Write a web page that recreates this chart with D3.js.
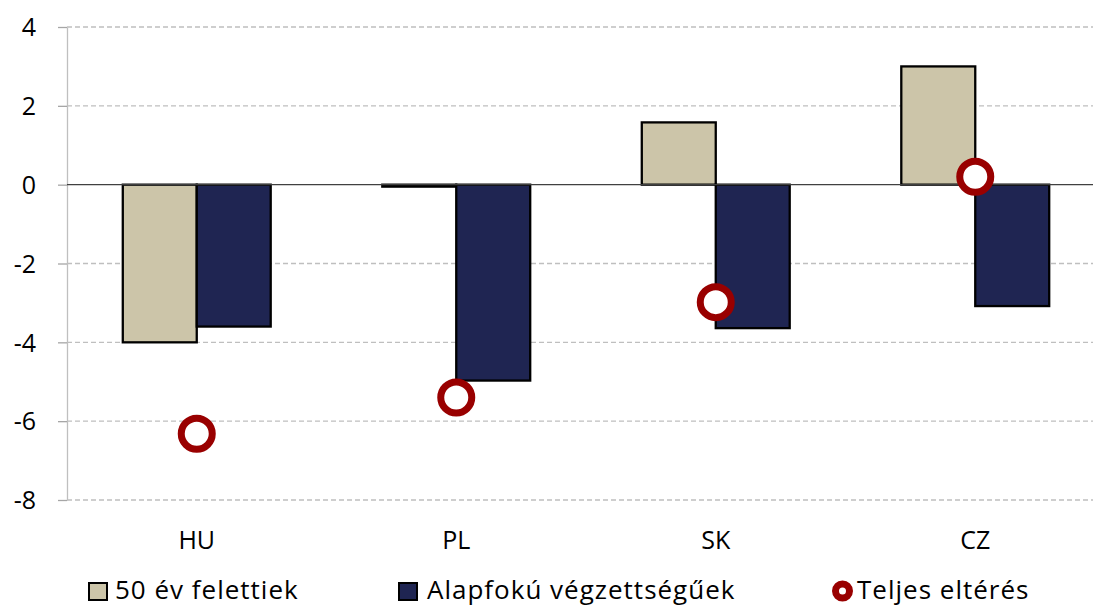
<!DOCTYPE html>
<html>
<head>
<meta charset="utf-8">
<script src="https://cdn.jsdelivr.net/npm/d3@7"></script>
<style>
  body { margin: 0; background: #fff; }
  text { font-family: "Open Sans", "Noto Sans", sans-serif; fill: #000; }
</style>
</head>
<body>
<div id="chart"></div>
<script>
var countries = ["HU", "PL", "SK", "CZ"];
var seriesNames = ["50 év felettiek", "Alapfokú végzettségűek", "Teljes eltérés"];
var over50 = [-4.0, -0.05, 1.58, 3.0];
var lowEdu = [-3.6, -4.97, -3.64, -3.08];
var total = [-6.32, -5.4, -2.98, 0.2];
var yTicks = [4, 2, 0, -2, -4, -6, -8];

var W = 1093, H = 606;
var margin = {top: 27, left: 67, bottom: 107};
var plotRight = 1105;

var svg = d3.select("#chart").append("svg")
    .attr("width", W)
    .attr("height", H);

var y = d3.scaleLinear()
    .domain([-8, 4])
    .range([H - margin.bottom + 1, margin.top]);

var x = d3.scaleBand()
    .domain(countries)
    .range([margin.left, plotRight])
    .paddingInner(0.43)
    .paddingOuter(0.215);

var sub = d3.scaleBand()
    .domain([0, 1])
    .range([0, x.bandwidth()]);

// gridlines
svg.append("g").selectAll("line")
    .data(yTicks.filter(function(d) { return d !== 0; }))
    .enter().append("line")
    .attr("x1", margin.left)
    .attr("x2", W)
    .attr("y1", function(d) { return y(d); })
    .attr("y2", function(d) { return y(d); })
    .attr("stroke", "#bfbfbf")
    .attr("stroke-width", 1.3)
    .attr("stroke-dasharray", "5,3");

// y axis (plain hyphen for minus, like the original)
var yAxis = svg.append("g")
    .attr("transform", "translate(" + margin.left + ",0)")
    .call(d3.axisLeft(y).tickValues(yTicks)
        .tickFormat(function(d) { return String(d); })
        .tickSize(9).tickSizeOuter(0).tickPadding(22));
yAxis.select(".domain").attr("stroke", "#bfbfbf").attr("stroke-width", 1.3);
yAxis.selectAll(".tick line").attr("stroke", "#a6a6a6").attr("stroke-width", 1.3);
yAxis.selectAll(".tick text")
    .style("font-size", "25px")
    .attr("dy", "0.35em");

// bars
var groups = svg.append("g").selectAll("g")
    .data(countries)
    .enter().append("g")
    .attr("transform", function(d) { return "translate(" + x(d) + ",0)"; });

var colors = ["#ccc5a9", "#1f2552"];
groups.selectAll("rect")
    .data(function(d, i) { return [over50[i], lowEdu[i]]; })
    .enter().append("rect")
    .attr("x", function(d, j) { return sub(j); })
    .attr("width", sub.bandwidth())
    .attr("y", function(d) { return y(Math.max(0, d)); })
    .attr("height", function(d) { return Math.abs(y(d) - y(0)); })
    .attr("fill", function(d, j) { return colors[j]; })
    .attr("stroke", "#000")
    .attr("stroke-width", 2.3);

// zero line
svg.append("line")
    .attr("x1", margin.left)
    .attr("x2", W)
    .attr("y1", y(0))
    .attr("y2", y(0))
    .attr("stroke", "#404040")
    .attr("stroke-width", 1.3);

// markers
svg.append("g").selectAll("circle")
    .data(countries)
    .enter().append("circle")
    .attr("cx", function(d) { return x(d) + x.bandwidth() / 2; })
    .attr("cy", function(d, i) { return y(total[i]); })
    .attr("r", 15.5)
    .attr("fill", "#fff")
    .attr("stroke", "#990000")
    .attr("stroke-width", 7);

// category labels
svg.append("g").selectAll("text")
    .data(countries)
    .enter().append("text")
    .attr("x", function(d) { return x(d) + x.bandwidth() / 2; })
    .attr("y", 549)
    .attr("text-anchor", "middle")
    .style("font-size", "25px")
    .text(function(d) { return d; });

// legend
var legend = svg.append("g");
legend.append("rect").attr("x", 89).attr("y", 583).attr("width", 18).attr("height", 17)
    .attr("fill", colors[0]).attr("stroke", "#000").attr("stroke-width", 2);
legend.append("rect").attr("x", 399).attr("y", 583).attr("width", 18).attr("height", 17)
    .attr("fill", colors[1]).attr("stroke", "#000").attr("stroke-width", 2);
legend.append("circle").attr("cx", 842.5).attr("cy", 591).attr("r", 7)
    .attr("fill", "#fff").attr("stroke", "#990000").attr("stroke-width", 7);
legend.selectAll("text")
    .data(seriesNames)
    .enter().append("text")
    .attr("x", function(d, i) { return [115, 427, 857][i]; })
    .attr("y", 599)
    .style("font-size", "26px")
    .style("letter-spacing", "1px")
    .text(function(d) { return d; });
</script>
</body>
</html>
